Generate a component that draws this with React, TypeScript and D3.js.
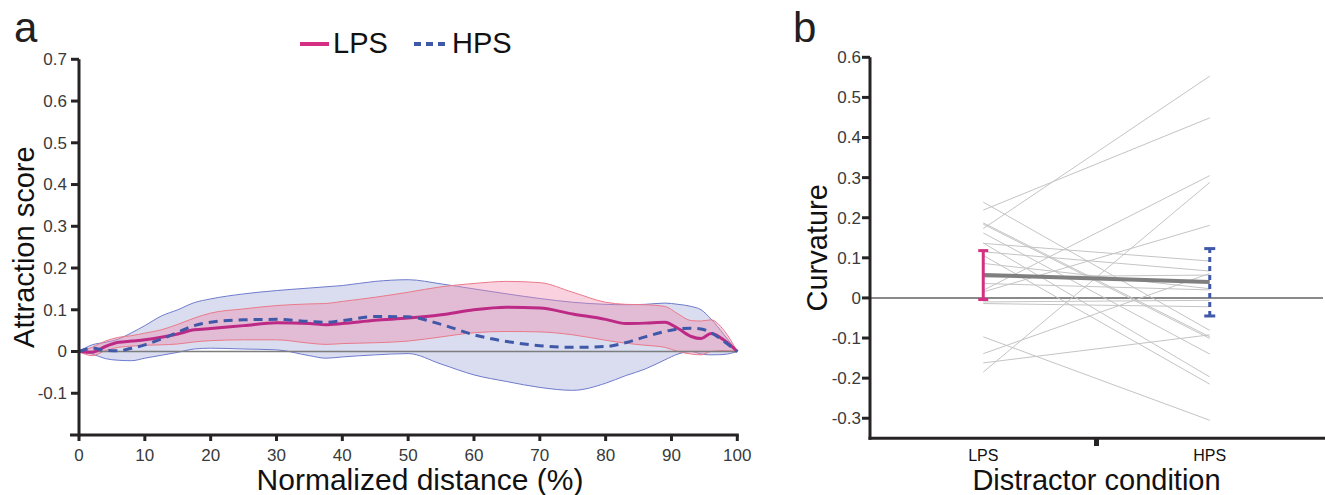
import React from 'react';
import * as d3 from 'd3';

// panel a: attraction score along the normalized reach distance
const distance = [0, 2, 4, 6, 8, 10, 12.5, 15, 17.5, 20, 25, 30, 35, 37.5, 40, 45, 50, 55, 60, 65, 70, 75, 80, 83, 86, 89, 91, 93, 94.5, 96, 98, 100];
const lpsMean = [0, -0.002, 0.012, 0.022, 0.025, 0.028, 0.034, 0.042, 0.052, 0.055, 0.062, 0.069, 0.067, 0.064, 0.067, 0.075, 0.08, 0.088, 0.1, 0.106, 0.104, 0.09, 0.077, 0.067, 0.068, 0.07, 0.055, 0.036, 0.031, 0.043, 0.027, 0];
const lpsUpper = [0, 0.01, 0.025, 0.034, 0.038, 0.044, 0.052, 0.065, 0.08, 0.092, 0.102, 0.11, 0.114, 0.115, 0.12, 0.13, 0.142, 0.155, 0.163, 0.168, 0.165, 0.142, 0.118, 0.113, 0.112, 0.108, 0.09, 0.074, 0.073, 0.076, 0.05, 0];
const lpsLower = [0, -0.01, 0.002, 0.01, 0.013, 0.015, 0.016, 0.018, 0.023, 0.026, 0.028, 0.028, 0.02, 0.017, 0.019, 0.021, 0.025, 0.035, 0.045, 0.048, 0.047, 0.04, 0.027, 0.02, 0.015, 0.01, 0, -0.006, -0.008, 0, 0.002, 0];
const hpsMean = [0, 0.008, 0.003, 0.002, 0.008, 0.016, 0.03, 0.046, 0.062, 0.07, 0.076, 0.077, 0.072, 0.07, 0.074, 0.084, 0.083, 0.065, 0.04, 0.024, 0.014, 0.01, 0.012, 0.021, 0.035, 0.048, 0.054, 0.056, 0.054, 0.045, 0.024, 0];
const hpsUpper = [0, 0.016, 0.022, 0.03, 0.045, 0.062, 0.085, 0.1, 0.117, 0.126, 0.138, 0.146, 0.152, 0.155, 0.158, 0.168, 0.172, 0.162, 0.15, 0.138, 0.127, 0.118, 0.113, 0.112, 0.113, 0.116, 0.113, 0.108, 0.1, 0.078, 0.04, 0];
const hpsLower = [0, -0.006, -0.017, -0.021, -0.022, -0.016, -0.009, -0.002, 0.006, 0.008, 0.006, 0.004, -0.01, -0.016, -0.013, -0.008, -0.005, -0.03, -0.056, -0.072, -0.086, -0.093, -0.076, -0.058, -0.042, -0.02, -0.006, 0, -0.006, -0.008, -0.007, 0];
const ticksA_y = [-0.1, 0, 0.1, 0.2, 0.3, 0.4, 0.5, 0.6, 0.7];
const ticksA_x = [0, 10, 20, 30, 40, 50, 60, 70, 80, 90, 100];

// panel b: curvature per participant
const conditions = ['LPS', 'HPS'];
const curvLPS = [0.173, 0.219, 0.019, -0.185, 0.015, 0.136, 0.115, -0.139, 0.052, 0.086, -0.01, -0.014, 0.239, 0.187, 0.184, 0.162, 0.137, 0.106, -0.097, -0.162, 0.036];
const curvHPS = [0.553, 0.449, 0.305, 0.288, 0.181, 0.092, 0.067, 0.061, 0.057, 0.023, -0.006, -0.022, -0.081, -0.097, -0.101, -0.14, -0.197, -0.215, -0.305, -0.092, 0.02];
const groupMean = [0.057, 0.04];
const groupLow = [-0.004, -0.045];
const groupHigh = [0.118, 0.123];
const ticksB_y = [-0.3, -0.2, -0.1, 0, 0.1, 0.2, 0.3, 0.4, 0.5, 0.6];

const FONT = '"Liberation Sans", Arial, Helvetica, sans-serif';
const AXIS = '#262324';
const LABEL = '#3a3a3a';
const PINK = '#d42f82';
const MAGENTA = '#bd2a86';
const BLUE = '#3f58a8';

const fmt = (d: number) => (d === 0 ? '0' : d.toFixed(1));

export default function App() {
  const W = 1325, H = 495;

  const xA = d3.scaleLinear().domain([0, 100]).range([79, 737.3]);
  const yA = d3.scaleLinear().domain([-0.2, 0.7]).range([435, 59.3]);

  const xB = d3.scalePoint().domain(conditions).range([870, 1323]).padding(0.5);
  const yB = d3.scaleLinear().domain([-0.35, 0.6]).range([438.3, 57.3]);

  const band = (up: number[], lo: number[]) =>
    d3.area<number>()
      .x((_, i) => xA(distance[i]))
      .y0((_, i) => yA(lo[i]))
      .y1((_, i) => yA(up[i]))
      .curve(d3.curveMonotoneX)(distance) as string;
  const edge = (vals: number[]) =>
    d3.line<number>()
      .x((_, i) => xA(distance[i]))
      .y((d) => yA(d))
      .curve(d3.curveMonotoneX)(vals) as string;

  const xL = xB('LPS') as number;
  const xH = xB('HPS') as number;

  return (
    <svg width={W} height={H} style={{ position: 'absolute', left: 0, top: 0, background: '#fff' }} fontFamily={FONT}>
      {/* ---------- panel a ---------- */}
      <text x={14} y={42} fontSize={42} fill="#231f20">a</text>

      {/* legend */}
      <line x1={300} x2={329} y1={44} y2={44} stroke={PINK} strokeWidth={4} />
      <text x={333} y={53} fontSize={29} fill="#111">LPS</text>
      <line x1={414} x2={446} y1={44} y2={44} stroke={BLUE} strokeWidth={4} strokeDasharray="7 5" />
      <text x={452} y={53} fontSize={29} fill="#111">HPS</text>

      {/* bands */}
      <path d={band(hpsUpper, hpsLower)} fill="#9fa9d6" fillOpacity={0.4} />
      <path d={edge(hpsUpper)} fill="none" stroke="#6f7bcc" strokeWidth={1} />
      <path d={edge(hpsLower)} fill="none" stroke="#6f7bcc" strokeWidth={1} />
      <path d={band(lpsUpper, lpsLower)} fill="#f08cb0" fillOpacity={0.4} />
      <path d={edge(lpsUpper)} fill="none" stroke="#ea7a8a" strokeWidth={1} />
      <path d={edge(lpsLower)} fill="none" stroke="#ea7a8a" strokeWidth={1} />

      {/* zero line */}
      <line x1={xA(0)} x2={xA(100)} y1={yA(0)} y2={yA(0)} stroke="#7d7d7d" strokeWidth={1.5} />

      {/* means */}
      <path d={edge(lpsMean)} fill="none" stroke={MAGENTA} strokeWidth={3} />
      <path d={edge(hpsMean)} fill="none" stroke={BLUE} strokeWidth={3} strokeDasharray="9 6" />

      {/* axes a */}
      <line x1={79} x2={79} y1={yA(0.7)} y2={436.5} stroke={AXIS} strokeWidth={3} />
      <line x1={70} x2={738.8} y1={435} y2={435} stroke={AXIS} strokeWidth={3} />
      {ticksA_y.map((t) => (
        <g key={t}>
          <line x1={71} x2={79} y1={yA(t)} y2={yA(t)} stroke={AXIS} strokeWidth={3} />
          <text x={67} y={yA(t)} dy="0.35em" textAnchor="end" fontSize={17} fill={LABEL}>{fmt(t)}</text>
        </g>
      ))}
      {ticksA_x.map((t) => (
        <g key={t}>
          <line x1={xA(t)} x2={xA(t)} y1={435} y2={441} stroke={AXIS} strokeWidth={3} />
          <text x={xA(t)} y={461} textAnchor="middle" fontSize={17} fill={LABEL}>{t}</text>
        </g>
      ))}
      <text x={420} y={490} textAnchor="middle" fontSize={30} fill="#111">Normalized distance (%)</text>
      <text transform={`translate(34,${(yA(0.7) + 435) / 2}) rotate(-90)`} textAnchor="middle" fontSize={29} fill="#111">Attraction score</text>

      {/* ---------- panel b ---------- */}
      <text x={793} y={42} fontSize={42} fill="#231f20">b</text>

      <line x1={870} x2={1323} y1={yB(0)} y2={yB(0)} stroke="#8a8a8a" strokeWidth={2} />

      {curvLPS.map((v, i) => (
        <line key={i} x1={xL} x2={xH} y1={yB(v)} y2={yB(curvHPS[i])} stroke="#c4c4c4" strokeWidth={1} />
      ))}

      <line x1={xL} x2={xH} y1={yB(groupMean[0])} y2={yB(groupMean[1])} stroke="#7f7f7f" strokeWidth={4} />

      {/* error bars */}
      <line x1={xL} x2={xL} y1={yB(groupLow[0])} y2={yB(groupHigh[0])} stroke={PINK} strokeWidth={3} />
      <line x1={xL - 5} x2={xL + 5} y1={yB(groupLow[0])} y2={yB(groupLow[0])} stroke={PINK} strokeWidth={3} />
      <line x1={xL - 5} x2={xL + 5} y1={yB(groupHigh[0])} y2={yB(groupHigh[0])} stroke={PINK} strokeWidth={3} />
      <line x1={xH} x2={xH} y1={yB(groupLow[1])} y2={yB(groupHigh[1])} stroke={BLUE} strokeWidth={3} strokeDasharray="5 4" />
      <line x1={xH - 5.5} x2={xH + 5.5} y1={yB(groupLow[1])} y2={yB(groupLow[1])} stroke={BLUE} strokeWidth={3} />
      <line x1={xH - 5.5} x2={xH + 5.5} y1={yB(groupHigh[1])} y2={yB(groupHigh[1])} stroke={BLUE} strokeWidth={3} />

      {/* axes b */}
      <line x1={870} x2={870} y1={yB(0.6)} y2={439.8} stroke={AXIS} strokeWidth={3} />
      <line x1={868.5} x2={1325} y1={438.3} y2={438.3} stroke={AXIS} strokeWidth={3} />
      {ticksB_y.map((t) => (
        <g key={t}>
          <line x1={862} x2={870} y1={yB(t)} y2={yB(t)} stroke={AXIS} strokeWidth={3} />
          <text x={861} y={yB(t)} dy="0.35em" textAnchor="end" fontSize={17} fill={LABEL}>{fmt(t)}</text>
        </g>
      ))}
      <line x1={(xL + xH) / 2} x2={(xL + xH) / 2} y1={438} y2={446} stroke={AXIS} strokeWidth={5} />
      {conditions.map((c) => (
        <text key={c} x={xB(c)} y={461} textAnchor="middle" fontSize={16} fill="#111">{c}</text>
      ))}
      <text x={(xL + xH) / 2} y={490} textAnchor="middle" fontSize={29} fill="#111">Distractor condition</text>
      <text transform={`translate(827,${(yB(0.6) + 438.3) / 2}) rotate(-90)`} textAnchor="middle" fontSize={29} fill="#111">Curvature</text>
    </svg>
  );
}
